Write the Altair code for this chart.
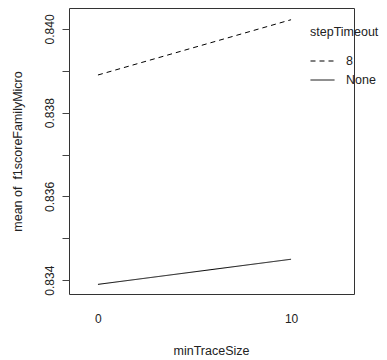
import altair as alt
import pandas as pd

min_trace_size = [0, 10]
step_8 = [0.8389, 0.84022]
step_none = [0.8339, 0.8345]

rows = []
for x, y in zip(min_trace_size, step_8):
    rows.append({"minTraceSize": x, "mean": y, "stepTimeout": "8"})
for x, y in zip(min_trace_size, step_none):
    rows.append({"minTraceSize": x, "mean": y, "stepTimeout": "None"})
df = pd.DataFrame(rows)

FONT = "Liberation Sans"
TXT = "#222222"

chart = alt.Chart(df).mark_line(color="black", strokeWidth=1).encode(
    x=alt.X("minTraceSize:Q",
            scale=alt.Scale(domain=[-1.5, 13.26], nice=False, zero=False),
            axis=alt.Axis(values=[0, 10], ticks=False, domain=False, grid=False,
                          labelPadding=19, labelFontSize=12, labelColor=TXT,
                          labelFont=FONT, format="d",
                          title="minTraceSize", titleFont=FONT, titleFontSize=12.5,
                          titleFontWeight="normal", titleColor=TXT,
                          titleX=142, titleY=56, titleBaseline="middle")),
    y=alt.Y("mean:Q",
            scale=alt.Scale(domain=[0.83367, 0.8405], nice=False, zero=False),
            axis=alt.Axis(values=[0.834, 0.835, 0.836, 0.837, 0.838, 0.839, 0.840],
                          labelExpr="round(datum.value*1000) % 2 == 0 ? format(datum.value, '.3f') : ''",
                          tickSize=7, tickColor="#444444", domain=False, grid=False,
                          labelAngle=-90, labelAlign="center", labelBaseline="bottom",
                          labelPadding=6, labelFontSize=12, labelColor=TXT, labelFont=FONT,
                          title="mean of\u00a0 f1scoreFamilyMicro", titleFont=FONT,
                          titleFontSize=12.5, titleFontWeight="normal", titleColor=TXT,
                          titleAngle=-90, titleX=-52, titleY=143,
                          titleAlign="center", titleBaseline="middle")),
    strokeDash=alt.StrokeDash("stepTimeout:N",
                              scale=alt.Scale(domain=["8", "None"], range=[[5, 4], [1, 0]]),
                              legend=alt.Legend(orient="none", legendX=241, legendY=18,
                                                title="stepTimeout", titleFont=FONT,
                                                titleFontSize=12.5, titleFontWeight="normal",
                                                titleColor=TXT, titlePadding=10,
                                                labelFont=FONT, labelFontSize=12.5,
                                                labelColor=TXT, labelOffset=11,
                                                symbolType="stroke", symbolSize=576,
                                                symbolStrokeWidth=1, symbolStrokeColor="black",
                                                rowPadding=-6)),
).properties(
    width=285, height=286,
    background="white",
    autosize=alt.AutoSizeParams(type="none"),
    padding={"left": 61, "top": 0, "right": 25, "bottom": 66},
).configure_view(
    stroke="#333333", strokeWidth=1, fill="white"
)

chart.save("out.html", embed_options={"renderer": "svg", "actions": False})
